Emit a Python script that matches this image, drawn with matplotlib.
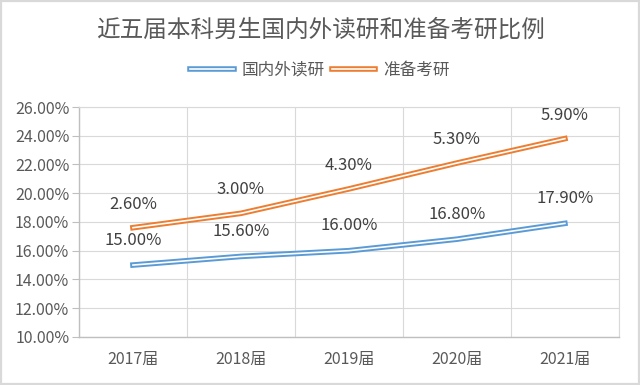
import matplotlib
matplotlib.use("Agg")
import matplotlib.pyplot as plt
import matplotlib.patheffects as pe
from matplotlib.patches import Rectangle
import numpy as np

plt.rcParams['font.family'] = ['Noto Sans CJK SC', 'DejaVu Sans']

categories = ["2017届", "2018届", "2019届", "2020届", "2021届"]
domestic_abroad = [15.00, 15.60, 16.00, 16.80, 17.90]   # 国内外读研
preparing = [2.60, 3.00, 4.30, 5.30, 5.90]              # 准备考研 (stacked)
series_names = ["国内外读研", "准备考研"]
yticks = [10, 12, 14, 16, 18, 20, 22, 24, 26]

blue = "#5B9BD5"
orange = "#ED7D31"
grid_c = "#D9D9D9"
text_c = "#595959"

fig = plt.figure(figsize=(6.4, 3.85), dpi=100)
ax = fig.add_axes([0.1234, 0.125, 0.967 - 0.1234, 0.722 - 0.125])

x = np.arange(len(categories))
base = np.array(domestic_abroad)
top = base + np.array(preparing)

def dbl(color):
    return [pe.Stroke(linewidth=4.0, foreground=color), pe.Normal()]

l1, = ax.plot(x, base, color="white", lw=1.2, solid_joinstyle="round",
              path_effects=dbl(blue), label=series_names[0], zorder=3)
l2, = ax.plot(x, top, color="white", lw=1.2, solid_joinstyle="round",
              path_effects=dbl(orange), label=series_names[1], zorder=3)

for xi, yv, v in zip(x, base, domestic_abroad):
    ax.annotate(f"{v:.2f}%", (xi, yv), xytext=(0, 18), textcoords="offset points",
                ha="center", va="center", fontsize=12, color="#404040")
for xi, yv, v in zip(x, top, preparing):
    ax.annotate(f"{v:.2f}%", (xi, yv), xytext=(0, 17), textcoords="offset points",
                ha="center", va="center", fontsize=12, color="#404040")

ax.set_xlim(-0.5, len(categories) - 0.5)
ax.set_ylim(10, 26)
ax.set_yticks(yticks)
ax.set_yticklabels([f"{t:.2f}%" for t in yticks])
ax.set_xticks(x)
ax.set_xticklabels(categories)
ax.set_xticks(np.arange(len(categories) + 1) - 0.5, minor=True)

ax.tick_params(axis="y", length=5, color="#BFBFBF", labelsize=11.5, labelcolor=text_c, pad=2)
ax.tick_params(axis="x", which="both", length=0, labelsize=11.5, labelcolor=text_c, pad=10)
ax.grid(axis="y", which="major", color=grid_c, lw=0.8)
ax.grid(axis="x", which="minor", color=grid_c, lw=0.8)
ax.grid(axis="x", which="major", visible=False)
ax.set_axisbelow(True)

for s in ["top", "right"]:
    ax.spines[s].set_color(grid_c)
    ax.spines[s].set_linewidth(0.8)
for s in ["left", "bottom"]:
    ax.spines[s].set_color("#BFBFBF")
    ax.spines[s].set_linewidth(1.0)

fig.text(0.5, 1 - 30 / 385, "近五届本科男生国内外读研和准备考研比例", ha="center", va="center",
         fontsize=17, color=text_c, fontweight="medium")

fig.legend(handles=[l1, l2], loc="center", bbox_to_anchor=(0.5, 1 - 70 / 385),
           ncol=2, frameon=False, fontsize=12, labelcolor=text_c,
           handlelength=2.6, handletextpad=0.5, columnspacing=0.4)

fig.patches.append(Rectangle((0.0015, 0.0025), 0.997, 0.995, transform=fig.transFigure,
                             fill=False, edgecolor=grid_c, lw=1.6))

fig.savefig("out.png", dpi=100)
